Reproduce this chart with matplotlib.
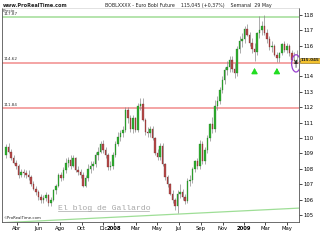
import numpy as np
import pandas as pd
import matplotlib
matplotlib.use("Agg")
import matplotlib.pyplot as plt
import matplotlib.dates as mdates
from matplotlib.patches import Ellipse
from matplotlib.transforms import blended_transform_factory

# Weekly Euro Bobl future, Mar 2007 - May 2009
dates = pd.date_range("2007-03-02", "2009-05-29", freq="W-FRI")

opens = [108.9, 109.4, 109.1, 108.7, 108.4, 108.2, 107.6, 107.8, 107.7, 107.6,
         107.5, 107.0, 106.7, 106.5, 106.2, 106.0, 106.1, 106.3, 105.8, 106.0,
         106.6, 106.9, 107.6, 107.4, 107.9, 108.4, 108.6, 108.2, 108.7, 107.9,
         107.8, 107.6, 106.9, 107.4, 108.0, 108.2, 108.3, 108.9,
         109.1, 109.6, 109.2, 108.9, 108.1, 108.2, 108.9, 109.6, 110.1, 110.3,
         110.5, 111.8, 111.3, 110.6, 111.3, 110.5, 112.1, 112.2, 111.2, 110.4,
         110.3, 110.6, 110.0, 109.0, 108.8, 109.5, 108.3, 107.5, 107.0, 106.4,
         106.0, 105.6, 106.4, 106.5, 106.2, 105.9, 107.2, 107.3, 108.0, 108.5,
         108.2, 109.6, 108.5, 109.2, 110.0, 110.9, 110.6, 112.1, 112.4, 113.1,
         113.8, 114.4, 114.6, 115.1, 114.5, 114.2, 115.8, 116.3, 116.4, 117.1,
         116.7, 116.2, 115.8, 115.6, 116.8, 117.0, 117.3, 116.8, 116.4, 115.9,
         116.0, 115.4, 115.2, 115.5, 116.1, 115.7, 116.0, 115.5, 115.1, 115.0]
highs = [109.6, 109.7, 109.3, 108.9, 108.6, 108.3, 108.0, 108.0, 107.9, 107.9,
         107.6, 107.2, 106.9, 106.6, 106.4, 106.3, 106.5, 106.4, 106.2, 106.7,
         107.0, 107.7, 107.8, 108.1, 108.7, 108.8, 108.9, 108.9, 108.8, 108.2,
         108.0, 107.8, 107.6, 108.3, 108.5, 108.5, 109.1, 109.4,
         109.8, 109.9, 109.4, 109.0, 108.5, 109.1, 109.8, 110.4, 110.5, 110.8,
         112.0, 112.0, 111.5, 111.5, 111.4, 112.3, 112.6, 112.6, 111.3, 110.7,
         110.8, 110.8, 110.1, 109.3, 109.7, 109.7, 108.4, 107.6, 107.1, 106.6,
         106.1, 106.6, 107.0, 106.7, 106.4, 107.4, 107.6, 108.1, 108.6, 108.7,
         109.9, 109.8, 109.4, 110.2, 111.0, 111.4, 112.5, 112.7, 113.3, 114.0,
         114.6, 115.0, 115.3, 115.3, 114.9, 116.0, 116.6, 116.8, 117.3, 117.4,
         116.9, 116.5, 116.2, 116.9, 117.9, 117.6, 118.0, 117.1, 116.6, 116.3,
         116.1, 115.6, 115.6, 116.2, 116.3, 116.2, 116.1, 115.7, 115.6, 115.7]
lows = [108.7, 109.0, 108.6, 108.3, 108.0, 107.4, 107.5, 107.5, 107.4, 107.3,
        106.9, 106.6, 106.3, 106.0, 105.8, 105.8, 105.9, 105.6, 105.6, 105.9,
        106.4, 106.8, 107.2, 107.3, 107.7, 108.1, 108.0, 108.1, 107.8, 107.6,
        107.4, 106.8, 106.8, 107.2, 107.7, 107.9, 108.1, 108.6,
        109.0, 109.0, 108.7, 107.9, 107.9, 108.0, 108.8, 109.5, 109.8, 110.1,
        110.4, 111.0, 110.4, 110.3, 110.4, 110.4, 111.8, 111.1, 110.2, 110.1,
        110.1, 109.9, 108.9, 108.6, 108.6, 108.2, 107.3, 106.8, 106.3, 105.8,
        105.3, 105.15, 106.1, 106.0, 105.7, 105.8, 106.9, 107.1, 107.8, 108.0,
        108.0, 108.3, 108.3, 109.0, 109.8, 110.3, 110.4, 111.8, 112.2, 112.9,
        113.5, 114.1, 114.3, 114.3, 113.9, 114.0, 115.5, 115.9, 116.2, 116.6,
        116.0, 115.5, 115.0, 115.4, 116.5, 116.7, 116.7, 116.2, 115.7, 115.6,
        115.3, 114.95, 114.95, 115.4, 115.6, 115.5, 115.3, 115.0, 114.95, 114.95]
closes = [109.4, 109.1, 108.7, 108.4, 108.2, 107.6, 107.8, 107.7, 107.6, 107.5,
          107.0, 106.7, 106.5, 106.2, 106.0, 106.1, 106.3, 105.8, 106.0, 106.6,
          106.9, 107.6, 107.4, 107.9, 108.4, 108.6, 108.2, 108.7, 107.9, 107.8,
          107.6, 106.9, 107.4, 108.0, 108.2, 108.3, 108.9, 109.1,
          109.6, 109.2, 108.9, 108.1, 108.2, 108.9, 109.6, 110.1, 110.3, 110.5,
          111.8, 111.3, 110.6, 111.3, 110.5, 112.1, 112.2, 111.2, 110.4, 110.3,
          110.6, 110.0, 109.0, 108.8, 109.5, 108.3, 107.5, 107.0, 106.4, 106.0,
          105.6, 106.4, 106.5, 106.2, 105.9, 107.2, 107.3, 108.0, 108.5, 108.2,
          109.6, 108.5, 109.2, 110.0, 110.9, 110.6, 112.1, 112.4, 113.1, 113.8,
          114.4, 114.6, 115.1, 114.5, 114.2, 115.8, 116.3, 116.4, 117.1, 116.7,
          116.2, 115.8, 115.6, 116.8, 117.0, 117.3, 116.8, 116.4, 115.9, 116.0,
          115.4, 115.2, 115.5, 116.1, 115.7, 116.0, 115.5, 115.1, 115.0, 115.045]

# horizontal levels: where the lines sit and the labels printed on them
levels = [117.87, 114.9, 111.93]
level_labels = ["117.87", "114.62", "111.84"]
level_colors = ["#b4e4ac", "#f4a4a4", "#f4a4a4"]
trend_dates = ["2007-02-17", "2009-06-03"]
trend_values = [104.5, 105.45]
arrow_dates = ["2009-01-30", "2009-04-03"]

y_ticks = list(range(105, 119))
# the 115 label is hidden behind the last-price tag
y_tick_labels = [str(v) if v != 115 else "" for v in y_ticks]
tick_dates = ["2007-04-01", "2007-06-01", "2007-08-01", "2007-10-01", "2007-12-01",
              "2008-01-01", "2008-03-01", "2008-05-01", "2008-07-01", "2008-09-01",
              "2008-11-01", "2009-01-01", "2009-03-01", "2009-05-01"]
tick_labels = ["Abr", "Jun", "Ago", "Oct", "Dic", "2008", "Mar", "May", "Jul",
               "Sep", "Nov", "2009", "Mar", "May"]

fig = plt.figure(figsize=(3.2, 2.4), dpi=100)
ax = fig.add_axes([0.006, 0.075, 0.928, 0.892])
ytrans = blended_transform_factory(ax.transAxes, ax.transData)

x = mdates.date2num(dates)
o = np.array(opens); h = np.array(highs); l = np.array(lows); c = np.array(closes)

for lv, lab, col in zip(levels, level_labels, level_colors):
    ax.axhline(lv, color=col, lw=1.4, zorder=1)
    ax.text(0.004, lv + 0.08, lab, transform=ytrans, fontsize=3.0, color="#333333",
            va="bottom", ha="left")

ax.plot(mdates.date2num(pd.to_datetime(trend_dates)), trend_values, color="#9ede96", lw=0.9, zorder=1)

ax.vlines(x, l, h, color="#8a8a8a", lw=0.5, zorder=2)
up = c >= o
body_h = np.maximum(np.abs(c - o), 0.05)
ax.bar(x[up], body_h[up], bottom=np.minimum(o, c)[up], width=4.2, color="#2fae2f",
       edgecolor="#1f6f1f", linewidth=0.2, zorder=3)
ax.bar(x[~up], body_h[~up], bottom=np.minimum(o, c)[~up], width=4.2, color="#b84a4a",
       edgecolor="#6a2020", linewidth=0.2, zorder=3)

# annotations
for d in arrow_dates:
    xd = mdates.date2num(pd.Timestamp(d))
    ax.annotate("", xy=(xd, 114.72), xytext=(xd, 114.25),
                arrowprops=dict(arrowstyle="-|>,head_width=0.18,head_length=0.3", color="#22dd22", lw=1.0))
xl = mdates.date2num(pd.Timestamp("2009-05-29"))
ax.add_patch(Ellipse((xl - 2, 114.85), 25, 1.12, fill=False, edgecolor="#9a3fd0", lw=0.9, zorder=5))
ax.annotate("", xy=(xl - 2, 115.25), xytext=(xl - 2, 114.4),
            arrowprops=dict(arrowstyle="-|>,head_width=0.1,head_length=0.2", color="#222222", lw=0.5))

ax.text(0.19, 0.055, "El blog de Gallardo", transform=ax.transAxes, fontsize=5.9,
        family="Liberation Mono", color="#a8a8a8")
ax.plot([0.19, 0.496], [0.05, 0.05], transform=ax.transAxes, color="#a8a8a8", lw=0.5)
ax.text(0.005, 0.012, "©ProRealTime.com", transform=ax.transAxes, fontsize=2.8, color="#222222")
ax.text(0.004, 0.995, "Precio", transform=ax.transAxes, fontsize=3.0, color="#333333", va="top")

ax.set_xlim(mdates.date2num(pd.Timestamp("2007-02-18")), mdates.date2num(pd.Timestamp("2009-06-04")))
ax.set_ylim(104.55, 118.45)

ax.yaxis.tick_right()
ax.set_yticks(y_ticks)
ax.set_yticklabels(y_tick_labels)
ax.tick_params(axis="y", labelsize=3.8, length=2, width=0.5, pad=1)
ax.set_xticks(mdates.date2num(pd.to_datetime(tick_dates)))
ax.set_xticklabels(tick_labels)
ax.tick_params(axis="x", labelsize=3.8, length=2, width=0.5, pad=1)
for lab in ax.get_xticklabels():
    if lab.get_text() in ("2008", "2009"):
        lab.set_fontweight("bold")
for side in ["left", "right", "bottom"]:
    ax.spines[side].set_color("#555555")
    ax.spines[side].set_linewidth(0.6)
ax.spines["top"].set_color("#cccccc")
ax.spines["top"].set_linewidth(0.4)

# last price tag
ax.text(1.005, 115.045, "115.045", transform=ytrans, fontsize=3.0, fontweight="bold",
        va="center", ha="left", color="#222222", zorder=6,
        bbox=dict(boxstyle="square,pad=0.1", facecolor="#f2c12e", edgecolor="#8a6a10", lw=0.4))

fig.text(0.008, 0.988, "www.ProRealTime.com", fontsize=3.6, fontweight="bold", va="top", color="#222222")
fig.text(0.587, 0.988, "BOBLXXXX - Euro Bobl Future    115,045 (+0,37%)    Semanal  29 May",
         fontsize=3.4, va="top", ha="center", color="#222222")

fig.savefig("out.png", dpi=100)
